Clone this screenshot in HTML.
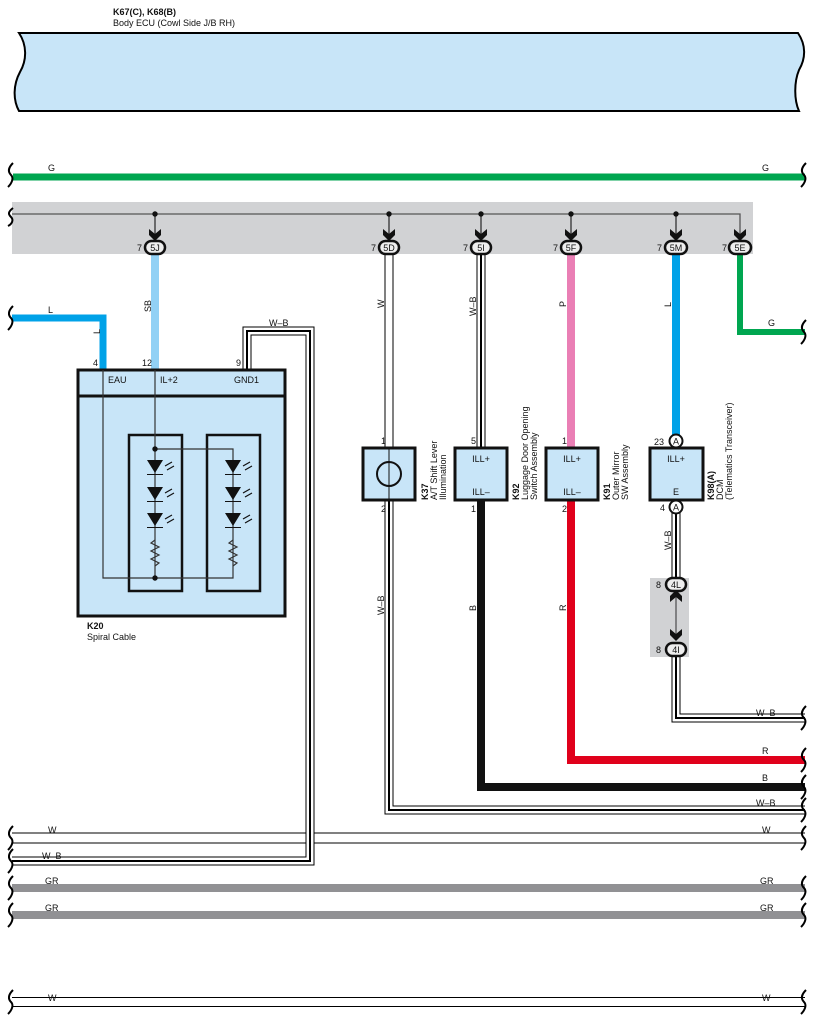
<!DOCTYPE html>
<html><head><meta charset="utf-8"><style>
html,body{margin:0;padding:0;background:#fff}
svg{display:block}
text{font-family:"Liberation Sans",sans-serif;font-size:9px;fill:#111}
.o{stroke:#000;fill:none;stroke-width:9}
.i{stroke:#fff;fill:none;stroke-width:7}
.c{stroke:#000;fill:none;stroke-width:2}
.brk{stroke:#000;fill:none;stroke-width:2}
</style></head><body>
<svg width="818" height="1029" viewBox="0 0 818 1029" xmlns="http://www.w3.org/2000/svg">
<!-- ECU -->
<text x="113" y="15" font-weight="bold">K67(C), K68(B)</text>
<text x="113" y="26">Body ECU (Cowl Side J/B RH)</text>
<path d="M19 33 H798 C806 45 806 58 799 70 C794 82 794 100 799 111 H19 C13 100 13 85 20 72 C27 60 27 45 19 33 Z" fill="#c8e5f8" stroke="#000" stroke-width="2"/>

<!-- G top -->
<path d="M13 177 H805" stroke="#00a650" stroke-width="7"/>
<text x="48" y="171">G</text><text x="762" y="171">G</text>

<!-- gray region -->
<rect x="12" y="202" width="741" height="52" fill="#d1d2d4"/>
<path d="M12 214 H740 V240" stroke="#555" stroke-width="1.3" fill="none"/>
<g stroke="#333" stroke-width="1.3">
<path d="M155 214 V240M389 214 V240M481 214 V240M571 214 V240M676 214 V240"/>
</g>
<g fill="#111">
<circle cx="155" cy="214" r="2.7"/><circle cx="389" cy="214" r="2.7"/><circle cx="481" cy="214" r="2.7"/><circle cx="571" cy="214" r="2.7"/><circle cx="676" cy="214" r="2.7"/>
<path d="M149 229 L155 234 L161 229 L161 235 L155 241 L149 235Z"/>
<path d="M383 229 L389 234 L395 229 L395 235 L389 241 L383 235Z"/>
<path d="M475 229 L481 234 L487 229 L487 235 L481 241 L475 235Z"/>
<path d="M565 229 L571 234 L577 229 L577 235 L571 241 L565 235Z"/>
<path d="M670 229 L676 234 L682 229 L682 235 L676 241 L670 235Z"/>
<path d="M734 229 L740 234 L746 229 L746 235 L740 241 L734 235Z"/>
</g>
<path d="M13 208 C8 212 8 214 11 217 C14 220 12 224 8 226" class="brk"/>

<!-- wires top section -->
<path d="M155 254 V370" stroke="#92d1f5" stroke-width="8"/>
<path d="M12 318 H103 V370" stroke="#00a2e8" stroke-width="7" fill="none"/>
<path d="M571 254 V447" stroke="#ea7fb5" stroke-width="8"/>
<path d="M676 254 V435" stroke="#00a2e8" stroke-width="8"/>
<path d="M740 254 V332 H805" stroke="#00a650" stroke-width="6" fill="none"/>
<!-- W 5D -->
<path d="M389 254 V447" class="o"/><path d="M389 254 V447" class="i"/>
<!-- W-B 5I -->
<path d="M481 254 V447" class="o"/><path d="M481 254 V447" class="i"/><path d="M481 254 V447" class="c"/>
<!-- B and R -->
<path d="M481 501 V787 H805" stroke="#111" stroke-width="8" fill="none"/>
<path d="M571 501 V760 H805" stroke="#e0001b" stroke-width="8" fill="none"/>

<!-- bottom W -->
<path d="M12 838 H805" stroke="#000" stroke-width="11" fill="none"/><path d="M12 838 H805" stroke="#fff" stroke-width="9" fill="none"/>
<!-- K37 W-B -->
<path d="M389 501 V810 H805" class="o"/><path d="M389 501 V810 H805" class="i"/><path d="M389 501 V810 H805" class="c"/>
<!-- DCM W-B -->
<path d="M676 512 V578" class="o"/><path d="M676 512 V578" class="i"/><path d="M676 512 V578" class="c"/>
<path d="M676 656 V718 H805" class="o"/><path d="M676 656 V718 H805" class="i"/><path d="M676 656 V718 H805" class="c"/>
<!-- GND1 W-B -->
<path d="M247 370 V331 H310 V861 H12" class="o"/><path d="M247 370 V331 H310 V861 H12" class="i"/><path d="M247 370 V331 H310 V861 H12" class="c"/>
<!-- GR -->
<path d="M12 888 H805" stroke="#919194" stroke-width="8"/>
<path d="M12 915 H805" stroke="#919194" stroke-width="8"/>
<!-- bottom W -->
<path d="M12 1002 H805" stroke="#000" stroke-width="10"/><path d="M12 1002 H805" stroke="#fff" stroke-width="8"/>

<!-- break marks -->
<g class="brk">
<path d="M13 163 C8 168 8 172 11 175 C14 178 12 183 8 187"/>
<path d="M806 163 C801 168 801 172 804 175 C807 178 805 183 801 187"/>
<path d="M13 306 C8 311 8 315 11 318 C14 321 12 326 8 330"/>
<path d="M806 320 C801 325 801 329 804 332 C807 335 805 340 801 344"/>
<path d="M806 706 C801 711 801 715 804 718 C807 721 805 726 801 730"/>
<path d="M806 748 C801 753 801 757 804 760 C807 763 805 768 801 772"/>
<path d="M806 775 C801 780 801 784 804 787 C807 790 805 795 801 799"/>
<path d="M806 798 C801 803 801 807 804 810 C807 813 805 818 801 822"/>
<path d="M13 826 C8 831 8 835 11 838 C14 841 12 846 8 850"/>
<path d="M806 826 C801 831 801 835 804 838 C807 841 805 846 801 850"/>
<path d="M13 849 C8 854 8 858 11 861 C14 864 12 869 8 873"/>
<path d="M13 876 C8 881 8 885 11 888 C14 891 12 896 8 900"/>
<path d="M806 876 C801 881 801 885 804 888 C807 891 805 896 801 900"/>
<path d="M13 903 C8 908 8 912 11 915 C14 918 12 923 8 927"/>
<path d="M806 903 C801 908 801 912 804 915 C807 918 805 923 801 927"/>
<path d="M13 990 C8 995 8 999 11 1002 C14 1005 12 1010 8 1014"/>
<path d="M806 990 C801 995 801 999 804 1002 C807 1005 805 1010 801 1014"/>
</g>

<!-- connectors -->
<g stroke="#111" stroke-width="2.5" fill="#eee">
<rect x="145" y="241" width="20" height="13" rx="6.5"/>
<rect x="379" y="241" width="20" height="13" rx="6.5"/>
<rect x="471" y="241" width="20" height="13" rx="6.5"/>
<rect x="561" y="241" width="20" height="13" rx="6.5"/>
<rect x="665" y="241" width="22" height="13" rx="6.5"/>
<rect x="729" y="241" width="22" height="13" rx="6.5"/>
</g>
<g text-anchor="middle">
<text x="155" y="251">5J</text><text x="389" y="251">5D</text><text x="481" y="251">5I</text>
<text x="571" y="251">5F</text><text x="676" y="251">5M</text><text x="740" y="251">5E</text>
</g>
<text x="137" y="251">7</text><text x="371" y="251">7</text><text x="463" y="251">7</text><text x="553" y="251">7</text><text x="657" y="251">7</text><text x="722" y="251">7</text>

<!-- wire labels -->
<text x="48" y="313">L</text><text x="768" y="326">G</text>
<g>
<text transform="translate(151,312) rotate(-90)">SB</text>
<text transform="translate(100,334) rotate(-90)">L</text>
<text transform="translate(384,308) rotate(-90)">W</text>
<text transform="translate(476,316) rotate(-90)">W–B</text>
<text transform="translate(566,307) rotate(-90)">P</text>
<text transform="translate(671,307) rotate(-90)">L</text>
<text transform="translate(384,615) rotate(-90)">W–B</text>
<text transform="translate(476,611) rotate(-90)">B</text>
<text transform="translate(566,611) rotate(-90)">R</text>
<text transform="translate(671,550) rotate(-90)">W–B</text>
</g>
<text x="269" y="326">W–B</text>
<text x="756" y="716">W–B</text><text x="762" y="754">R</text><text x="762" y="781">B</text><text x="756" y="806">W–B</text>
<text x="48" y="833">W</text><text x="762" y="833">W</text>
<text x="42" y="859">W–B</text>
<text x="45" y="884">GR</text><text x="760" y="884">GR</text>
<text x="45" y="911">GR</text><text x="760" y="911">GR</text>
<text x="48" y="1001">W</text><text x="762" y="1001">W</text>

<!-- K20 -->
<rect x="78" y="370" width="207" height="246" fill="#c8e5f8" stroke="#111" stroke-width="3"/>
<path d="M78 396 H285" stroke="#111" stroke-width="3"/>
<text x="93" y="366">4</text><text x="142" y="366">12</text><text x="236" y="366">9</text>
<text x="108" y="383">EAU</text><text x="160" y="383">IL+2</text><text x="234" y="383">GND1</text>
<rect x="129" y="435" width="53" height="156" fill="none" stroke="#111" stroke-width="2.5"/>
<rect x="207" y="435" width="53" height="156" fill="none" stroke="#111" stroke-width="2.5"/>
<g stroke="#333" stroke-width="1.2" fill="none">
<path d="M103 370 V578 H233 V540"/>
<path d="M155 370 V578"/>
<path d="M155 449 H233 V540"/>
<path d="M155 540 l-4 3 l8 4 l-8 4 l8 4 l-8 4 l8 4 l-4 3"/>
<path d="M233 540 l-4 3 l8 4 l-8 4 l8 4 l-8 4 l8 4 l-4 3"/>
</g>
<g fill="#111">
<circle cx="155" cy="449" r="2.7"/><circle cx="155" cy="578" r="2.7"/>
<path d="M147 460 H163 L155 473Z M147 474 H163 V475 H147Z"/>
<path d="M147 487 H163 L155 500Z M147 501 H163 V502 H147Z"/>
<path d="M147 513 H163 L155 526Z M147 527 H163 V528 H147Z"/>
<path d="M225 460 H241 L233 473Z M225 474 H241 V475 H225Z"/>
<path d="M225 487 H241 L233 500Z M225 501 H241 V502 H225Z"/>
<path d="M225 513 H241 L233 526Z M225 527 H241 V528 H225Z"/>
</g>
<g stroke="#111" stroke-width="1.2">
<path d="M165 466 l7 -4 M167 470 l7 -4 M243 466 l7 -4 M245 470 l7 -4"/>
<path d="M165 493 l7 -4 M167 497 l7 -4 M243 493 l7 -4 M245 497 l7 -4"/>
<path d="M165 519 l7 -4 M167 523 l7 -4 M243 519 l7 -4 M245 523 l7 -4"/>
</g>
<text x="87" y="629" font-weight="bold">K20</text>
<text x="87" y="640">Spiral Cable</text>

<!-- K37 -->
<rect x="363" y="448" width="52" height="52" fill="#c8e5f8" stroke="#111" stroke-width="3"/>
<path d="M389 448 V500" stroke="#111" stroke-width="1"/>
<circle cx="389" cy="474" r="12" fill="none" stroke="#111" stroke-width="2"/>
<text x="381" y="444">1</text><text x="381" y="512">2</text>
<text transform="translate(428,500) rotate(-90)" font-weight="bold">K37</text>
<text transform="translate(437,500) rotate(-90)">A/T Shift Lever</text>
<text transform="translate(446,500) rotate(-90)">Illumination</text>
<!-- K92 -->
<rect x="455" y="448" width="52" height="52" fill="#c8e5f8" stroke="#111" stroke-width="3"/>
<text x="481" y="462" text-anchor="middle">ILL+</text><text x="481" y="495" text-anchor="middle">ILL–</text>
<text x="471" y="444">5</text><text x="471" y="512">1</text>
<text transform="translate(519,500) rotate(-90)" font-weight="bold">K92</text>
<text transform="translate(528,500) rotate(-90)">Luggage Door Opening</text>
<text transform="translate(537,500) rotate(-90)">Switch Assembly</text>
<!-- K91 -->
<rect x="546" y="448" width="52" height="52" fill="#c8e5f8" stroke="#111" stroke-width="3"/>
<text x="572" y="462" text-anchor="middle">ILL+</text><text x="572" y="495" text-anchor="middle">ILL–</text>
<text x="562" y="444">1</text><text x="562" y="512">2</text>
<text transform="translate(610,500) rotate(-90)" font-weight="bold">K91</text>
<text transform="translate(619,500) rotate(-90)">Outer Mirror</text>
<text transform="translate(628,500) rotate(-90)">SW Assembly</text>
<!-- K98 -->
<rect x="650" y="448" width="53" height="52" fill="#c8e5f8" stroke="#111" stroke-width="3"/>
<text x="676" y="462" text-anchor="middle">ILL+</text><text x="676" y="495" text-anchor="middle">E</text>
<circle cx="676" cy="441" r="6.5" fill="#fff" stroke="#111" stroke-width="2"/>
<circle cx="676" cy="507" r="6.5" fill="#fff" stroke="#111" stroke-width="2"/>
<text x="676" y="444.5" text-anchor="middle" font-size="8">A</text><text x="676" y="510.5" text-anchor="middle" font-size="8">A</text>
<text x="654" y="445">23</text><text x="660" y="511">4</text>
<text transform="translate(714,500) rotate(-90)" font-weight="bold">K98(A)</text>
<text transform="translate(723,500) rotate(-90)">DCM</text>
<text transform="translate(732,500) rotate(-90)">(Telematics Transceiver)</text>

<!-- 4L/4I -->
<rect x="650" y="578" width="39" height="79" fill="#d1d2d4"/>
<path d="M676 595 V640" stroke="#555" stroke-width="1.3"/>
<path d="M670 602 L676 597 L682 602 L682 596 L676 590 L670 596Z M670 629 L676 634 L682 629 L682 635 L676 641 L670 635Z" fill="#111"/>
<rect x="666" y="578" width="20" height="13" rx="6.5" fill="#eee" stroke="#111" stroke-width="2.5"/>
<rect x="666" y="643" width="20" height="13" rx="6.5" fill="#eee" stroke="#111" stroke-width="2.5"/>
<text x="676" y="588" text-anchor="middle">4L</text><text x="676" y="653" text-anchor="middle">4I</text>
<text x="656" y="588">8</text><text x="656" y="653">8</text>
</svg>
</body></html>
